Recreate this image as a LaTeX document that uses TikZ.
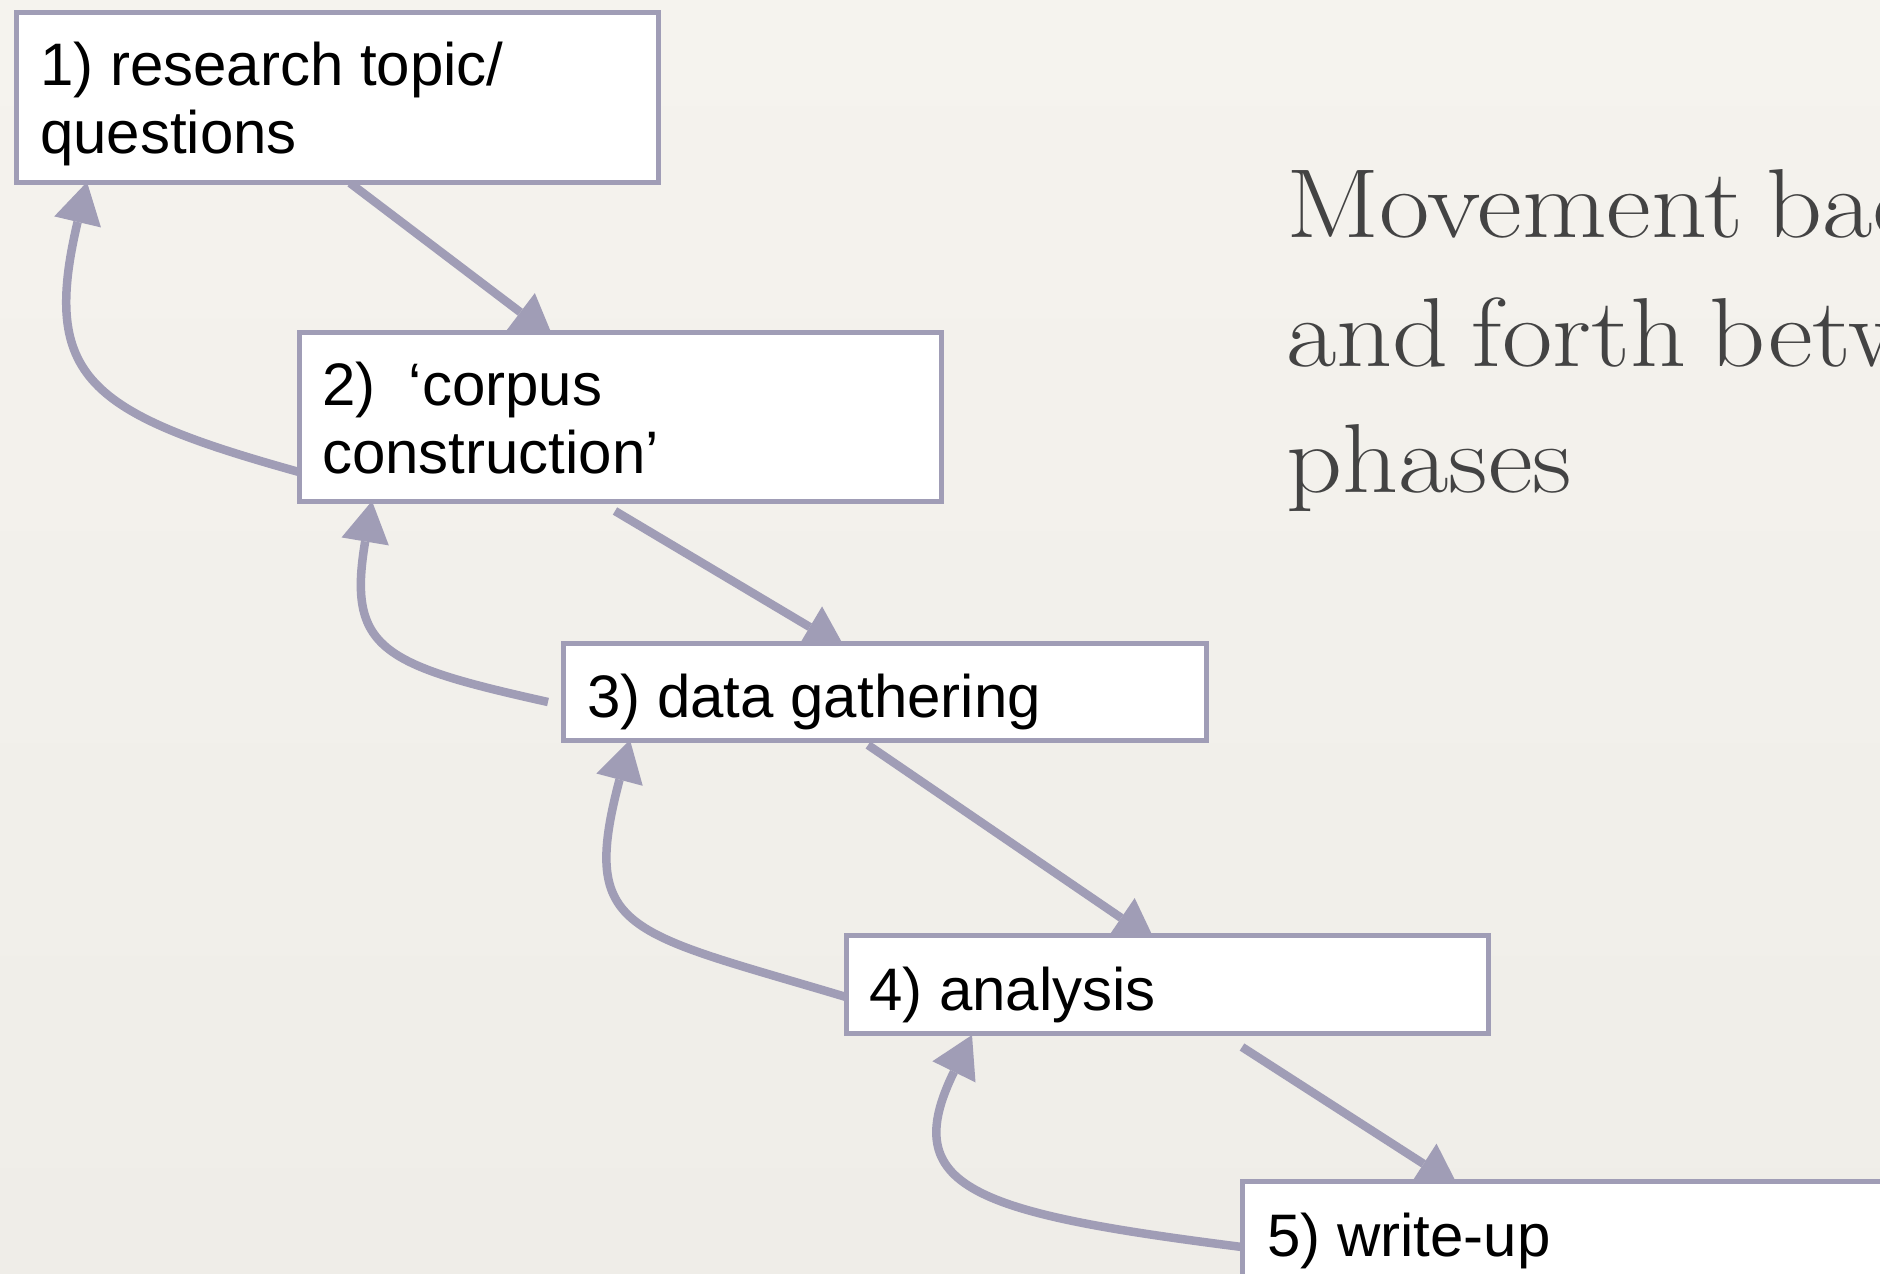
\documentclass[tikz,border=0pt]{standalone}
\usepackage{fontspec}
\newfontfamily\boxfont{Liberation Sans}
\usetikzlibrary{arrows.meta,calc}

\definecolor{paperTop}{HTML}{F5F3EE}
\definecolor{paperMid}{HTML}{E5E2DD}
\definecolor{paperBot}{HTML}{EFEDE8}
\definecolor{linkcol}{HTML}{A09DB6}
\definecolor{titlecol}{HTML}{434343}

\pgfdeclarelayer{paper}
\pgfdeclarelayer{links}
\pgfsetlayers{paper,links,main}

% heading line: serif, slightly widened, tight word spacing
\newcommand{\headline}[1]{\scalebox{1.12}[1]{#1}}
\newcommand{\wsp}{\hspace{0.21em}}

\begin{document}
\begin{tikzpicture}[x=1pt,y=-1pt,
  phase/.style={rectangle, draw=linkcol, line width=5pt, fill=white,
    anchor=north west, inner sep=0pt, outer sep=0pt, minimum width=642pt},
  phasetext/.style={anchor=base west, inner sep=0pt, text=black,
    font={\boxfont\fontsize{60pt}{69pt}\selectfont}},
  titletext/.style={anchor=base west, inner sep=0pt, text=titlecol,
    font={\fontsize{98pt}{128pt}\selectfont}},
  flow/.style={draw=linkcol, line width=8.5pt,
    -{Triangle[length=41pt,width=48pt,line width=0pt]}}
]
\useasboundingbox (0,0) rectangle (1880,1274);
\clip (0,0) rectangle (1880,1274);

% paper background
\begin{pgfonlayer}{paper}
  \shade[top color=paperTop, middle color=paperMid, bottom color=paperBot]
    (0,0) rectangle (1880,1274);
\end{pgfonlayer}

% phase boxes
\node[phase, minimum height=170pt] (n1) at (16,12) {};
\node[phase, minimum height=169pt] (n2) at (299,332) {};
\node[phase, minimum height=97pt, minimum width=643pt] (n3) at (563,643) {};
\node[phase, minimum height=98pt] (n4) at (846,935) {};
\node[phase, minimum height=98pt] (n5) at (1242,1181) {};

% box texts
\node[phasetext] (t1a) at ($(n1.north west)+(24,73)$) {1) research topic/};
\node[phasetext] (t1b) at ($(n1.north west)+(24,141)$) {questions};
\node[phasetext] (t2a) at ($(n2.north west)+(23,73)$) {2)\ \ ‘corpus};
\node[phasetext] (t2b) at ($(n2.north west)+(23,141)$) {construction’};
\node[phasetext] (t3) at ($(n3.north west)+(24,74)$) {3) data gathering};
\node[phasetext] (t4) at ($(n4.north west)+(23,75)$) {4) analysis};
\node[phasetext] (t5) at ($(n5.north west)+(25,75)$) {5) write-up};

% heading on the right
\node[titletext] (h1) at (1286,237) {\headline{Movement\wsp back}};
\node[titletext] (h2) at (1286,366) {\headline{and\wsp forth\wsp between}};
\node[titletext] (h3) at (1286,492) {\headline{phases}};

% connectors, drawn beneath the boxes
\begin{pgfonlayer}{links}
  % forward steps
  \draw[flow] ($(n1.south west)+(334,1)$) -- ($(n2.north west)+(254,5)$);
  \draw[flow] ($(n2.south west)+(316,10)$) -- ($(n3.north west)+(282,5)$);
  \draw[flow] ($(n3.south west)+(305,5)$) -- ($(n4.north west)+(309,6)$);
  \draw[flow] ($(n4.south west)+(396,14)$) -- ($(n5.north west)+(216,5)$);
  % loops back to the previous phase
  \draw[flow] ($(n2.north west)+(0,140)$)
    .. controls +(-212,-59) and +(-46,195) .. ($(n1.south west)+(71,0)$);
  \draw[flow] ($(n3.north west)+(-15,59)$)
    .. controls +(-166,-37) and +(-25,148) .. ($(n2.south west)+(73,0)$);
  \draw[flow] ($(n4.north west)+(0,62)$)
    .. controls +(-220,-66) and +(-51,193) .. ($(n3.south west)+(67,0)$);
  \draw[flow] ($(n5.north west)+(0,66)$)
    .. controls +(-268,-34) and +(-75,153) .. ($(n4.south west)+(126,2)$);
\end{pgfonlayer}
\end{tikzpicture}
\end{document}
